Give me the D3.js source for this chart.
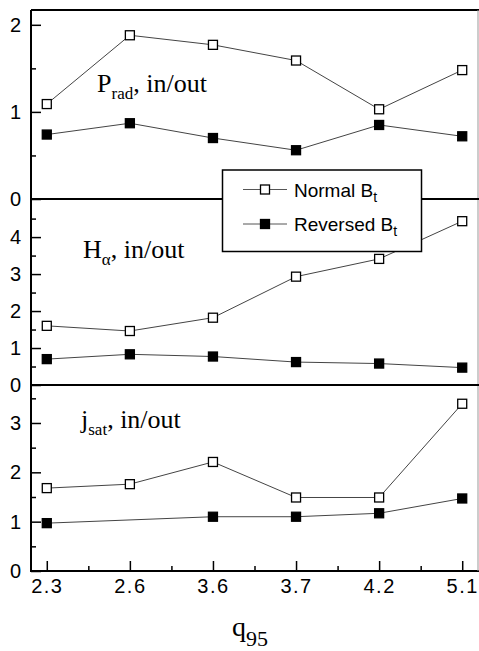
<!DOCTYPE html>
<html>
<head>
<meta charset="utf-8">
<script src="https://cdn.jsdelivr.net/npm/d3@7"></script>
<style>
  html, body { margin: 0; padding: 0; background: #fff; }
  svg { display: block; }
  .tick text { font-family: "Liberation Sans", Arial, sans-serif; font-size: 20px; fill: #000; }
  .xaxis .tick text { letter-spacing: 1.5px; }
  .tick line { stroke: #000; stroke-width: 1.5; }
</style>
</head>
<body>
<div id="chart"></div>
<script>
// x categories (q95), plotted at equal spacing
const qLabels = ["2.3", "2.6", "3.6", "3.7", "4.2", "5.1"];

// P_rad in/out
const pradNormal   = [1.09, 1.88, 1.77, 1.59, 1.03, 1.48];
const pradReversed = [0.74, 0.87, 0.70, 0.56, 0.85, 0.72];

// H_alpha in/out
const haNormal   = [1.60, 1.46, 1.82, 2.93, 3.41, 4.43];
const haReversed = [0.70, 0.83, 0.77, 0.62, 0.58, 0.47];

// j_sat in/out (no reversed point at q95 = 2.6)
const jsatNormal   = [1.68, 1.76, 2.21, 1.49, 1.49, 3.39];
const jsatReversed = [0.97, null, 1.10, 1.10, 1.17, 1.47];

const width = 479, height = 651;
const left = 31, right = 478, bottom = 571;

const svg = d3.select("#chart").append("svg")
  .attr("width", width).attr("height", height);

const x = d3.scaleLinear()
  .domain([-0.19, qLabels.length - 1 + 0.19])
  .range([left, right]);

// panels: pixel band + value domain + labelled ticks
const panels = [
  { top: 10,  bot: 199, max: 2.17, ticks: [0, 1, 2],       normal: pradNormal, reversed: pradReversed,
    label: { main: "P", sub: "rad", x: 97, y: 92 } },
  { top: 199, bot: 385, max: 5.03, ticks: [0, 1, 2, 3, 4], normal: haNormal,   reversed: haReversed,
    label: { main: "H", sub: "\u03b1", x: 83, y: 258 } },
  { top: 385, bot: 571, max: 3.77, ticks: [0, 1, 2, 3],    normal: jsatNormal, reversed: jsatReversed,
    label: { main: "j", sub: "sat", x: 81, y: 428 } }
];

const line = d3.line()
  .x(d => x(d.i))
  .y(d => d.y);

const ms = 9; // marker size

panels.forEach(p => {
  const y = d3.scaleLinear().domain([0, p.max]).range([p.bot, p.top]);

  // major ticks with labels, pointing inward
  const gy = svg.append("g")
    .attr("transform", `translate(${left},0)`)
    .call(d3.axisLeft(y).tickValues(p.ticks).tickFormat(d3.format("d"))
      .tickSizeInner(-10).tickSizeOuter(0).tickPadding(10));
  gy.select(".domain").remove();

  // minor ticks
  const minor = d3.range(0.5, p.max, 1);
  const gm = svg.append("g")
    .attr("transform", `translate(${left},0)`)
    .call(d3.axisLeft(y).tickValues(minor).tickFormat("").tickSizeInner(-5).tickSizeOuter(0));
  gm.select(".domain").remove();

  // series
  [[p.normal, "#fff"], [p.reversed, "#000"]].forEach(([vals, fill]) => {
    const pts = vals.map((v, i) => ({ i, v, y: v == null ? 0 : y(v) }))
      .filter(d => d.v != null);
    svg.append("path")
      .datum(pts)
      .attr("d", line)
      .attr("fill", "none")
      .attr("stroke", "#444")
      .attr("stroke-width", 1);
    svg.append("g").selectAll("rect")
      .data(pts)
      .join("rect")
      .attr("x", d => x(d.i) - ms / 2)
      .attr("y", d => d.y - ms / 2)
      .attr("width", ms).attr("height", ms)
      .attr("fill", fill)
      .attr("stroke", "#000")
      .attr("stroke-width", 1.3);
  });

  // panel label
  const t = svg.append("text")
    .attr("x", p.label.x).attr("y", p.label.y)
    .attr("font-family", "'Liberation Serif', 'Times New Roman', serif")
    .attr("font-size", 26);
  t.append("tspan").text(p.label.main);
  t.append("tspan").attr("font-size", 17).attr("dy", 7).text(p.label.sub);
  t.append("tspan").attr("dy", -7).text(", in/out");
});

// bottom axis: major ticks at categories, minor between
const gx = svg.append("g")
  .attr("class", "xaxis")
  .attr("transform", `translate(0,${bottom})`)
  .call(d3.axisBottom(x).tickValues(d3.range(qLabels.length))
    .tickFormat(i => qLabels[i]).tickSizeInner(-10).tickSizeOuter(0).tickPadding(8));
gx.select(".domain").remove();
gx.selectAll("text").attr("dy", "0.71em");
const gxm = svg.append("g")
  .attr("transform", `translate(0,${bottom})`)
  .call(d3.axisBottom(x).tickValues(d3.range(0.5, qLabels.length - 1, 1))
    .tickFormat("").tickSizeInner(-5).tickSizeOuter(0));
gxm.select(".domain").remove();

// frame and panel dividers
svg.append("line").attr("x1", left).attr("x2", width).attr("y1", 10).attr("y2", 10)
  .attr("stroke", "#000").attr("stroke-width", 2);
svg.append("line").attr("x1", left).attr("x2", left).attr("y1", 10).attr("y2", bottom + 1)
  .attr("stroke", "#000").attr("stroke-width", 2);
svg.append("line").attr("x1", left).attr("x2", width).attr("y1", bottom).attr("y2", bottom)
  .attr("stroke", "#000").attr("stroke-width", 2);
svg.append("line").attr("x1", right).attr("x2", right).attr("y1", 10).attr("y2", bottom)
  .attr("stroke", "#999").attr("stroke-width", 1);
panels.slice(1).forEach(p => {
  svg.append("line").attr("x1", left).attr("x2", width).attr("y1", p.top).attr("y2", p.top)
    .attr("stroke", "#000").attr("stroke-width", 2);
});

// legend
const legend = svg.append("g");
legend.append("rect")
  .attr("x", 222.5).attr("y", 170).attr("width", 199).attr("height", 81.5)
  .attr("fill", "#fff").attr("stroke", "#000").attr("stroke-width", 1.5);
const legendItems = [
  { name: "Normal B", fill: "#fff", y: 189.5 },
  { name: "Reversed B", fill: "#000", y: 224 }
];
legendItems.forEach(it => {
  legend.append("line").attr("x1", 243).attr("x2", 287).attr("y1", it.y).attr("y2", it.y)
    .attr("stroke", "#555").attr("stroke-width", 1);
  legend.append("rect").attr("x", 265 - ms / 2).attr("y", it.y - ms / 2)
    .attr("width", ms).attr("height", ms).attr("fill", it.fill)
    .attr("stroke", "#000").attr("stroke-width", 1.3);
  const t = legend.append("text").attr("x", 294).attr("y", it.y + 7)
    .attr("font-family", "'Liberation Sans', Arial, sans-serif").attr("font-size", 19);
  t.append("tspan").text(it.name);
  t.append("tspan").attr("font-size", 14).attr("dy", 5).text("t");
});

// x axis title
const xt = svg.append("text").attr("x", 232).attr("y", 636)
  .attr("font-family", "'Liberation Serif', 'Times New Roman', serif").attr("font-size", 28);
xt.append("tspan").text("q");
xt.append("tspan").attr("font-size", 22).attr("dy", 10).text("95");
</script>
</body>
</html>
